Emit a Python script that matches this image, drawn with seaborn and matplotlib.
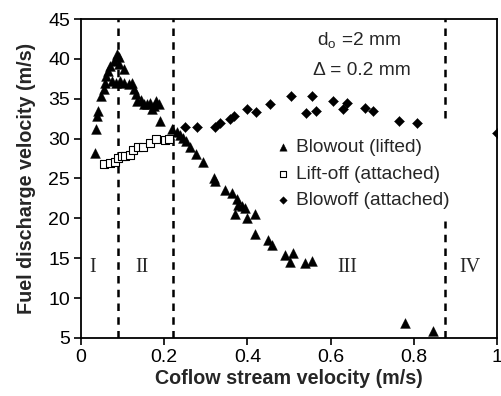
import matplotlib
matplotlib.use("Agg")
import numpy as np
import pandas as pd
import seaborn as sns
from matplotlib import pyplot as plt

# Blowout (lifted) - filled triangles
blowout_x = [0.033, 0.036, 0.039, 0.042, 0.049, 0.055, 0.058, 0.060, 0.065, 0.070,
             0.079, 0.087, 0.092, 0.091, 0.103, 0.075, 0.083, 0.094, 0.103, 0.115,
             0.123, 0.127, 0.131, 0.135, 0.143, 0.151, 0.159, 0.167, 0.175, 0.180,
             0.188, 0.191, 0.171, 0.218, 0.230, 0.238, 0.246, 0.252, 0.262, 0.276,
             0.294, 0.320, 0.322, 0.346, 0.362, 0.374, 0.378, 0.386, 0.394, 0.370,
             0.398, 0.418, 0.418, 0.450, 0.458, 0.490, 0.510, 0.502, 0.538, 0.555,
             0.779, 0.845]
blowout_y = [28.2, 31.25, 32.8, 33.5, 35.35, 36.2, 37.0, 37.9, 38.5, 39.1,
             39.75, 40.6, 40.2, 39.3, 38.7, 37.2, 37.0, 37.2, 37.0, 36.8,
             37.0, 36.2, 35.6, 34.7, 34.9, 34.3, 34.3, 34.5, 34.1, 34.7,
             34.3, 32.2, 33.7, 31.2, 30.8, 30.5, 30.1, 29.7, 28.9, 28.1,
             27.1, 25.1, 24.7, 23.6, 23.2, 22.4, 21.7, 21.5, 21.3, 20.5,
             20.1, 20.5, 18.0, 17.3, 16.7, 15.4, 15.6, 14.5, 14.4, 14.6,
             6.85, 5.9]

# Lift-off (attached) - open squares
liftoff_x = [0.055, 0.070, 0.082, 0.090, 0.098, 0.106, 0.118, 0.126, 0.138, 0.150,
             0.166, 0.180, 0.202, 0.212]
liftoff_y = [26.8, 26.9, 27.05, 27.6, 27.8, 27.8, 28.0, 28.6, 29.0, 28.9,
             29.5, 30.0, 29.8, 29.9]

# Blowoff (attached) - filled diamonds
blowoff_x = [0.250, 0.278, 0.322, 0.334, 0.358, 0.368, 0.398, 0.421, 0.454, 0.504,
             0.555, 0.541, 0.566, 0.605, 0.630, 0.639, 0.683, 0.703, 0.765, 0.807,
             1.0]
blowoff_y = [31.4, 31.4, 31.4, 32.0, 32.4, 32.8, 33.7, 33.4, 34.3, 35.4,
             35.4, 33.2, 33.5, 34.7, 33.7, 34.5, 33.8, 33.5, 32.2, 32.0,
             30.7]

regime_bounds = [0.09, 0.22, 0.875]
regime_labels = ["I", "II", "III", "IV"]
regime_label_x = [0.029, 0.146, 0.639, 0.935]

sns.set_style("ticks")
plt.rcParams['font.family'] = ['Liberation Sans', 'DejaVu Sans']

fig = plt.figure(figsize=(5.02, 3.96), dpi=100)
ax = fig.add_axes([0.1614, 0.1465, 0.8287, 0.8055])

sns.scatterplot(x=blowout_x, y=blowout_y, marker="^", s=50, color="black",
                edgecolor="black", linewidth=0.3, label="Blowout (lifted)", ax=ax, zorder=3)
sns.scatterplot(x=liftoff_x, y=liftoff_y, marker="s", s=40, facecolor="white",
                edgecolor="black", linewidth=0.8, label="Lift-off (attached)", ax=ax, zorder=3)
sns.scatterplot(x=blowoff_x, y=blowoff_y, marker="D", s=26, color="black",
                edgecolor="black", linewidth=0.3, label="Blowoff (attached)", ax=ax, zorder=3)

dash = (0, (3, 2.5))
ax.vlines(regime_bounds[:2], 5, 45, colors="black", linestyles=dash, linewidth=1.8)
ax.vlines([regime_bounds[2]], 32.6, 45, colors="black", linestyles=dash, linewidth=1.8)
ax.vlines([regime_bounds[2]], 5, 19.7, colors="black", linestyles=dash, linewidth=1.8)

for lx, lab in zip(regime_label_x, regime_labels):
    ax.text(lx, 13.9, lab, family="Liberation Serif", fontsize=14.5, ha="center", va="center")

ax.text(0.567, 42.2, r"d$_\mathregular{o}$ =2 mm", fontsize=13.8, ha="left", va="center")
ax.text(0.558, 38.6, "\u0394 = 0.2 mm", fontsize=13.8, ha="left", va="center")

ax.set_xlim(0, 1)
ax.set_ylim(5, 45)
ax.set_xticks([0, 0.2, 0.4, 0.6, 0.8, 1.0])
ax.set_xticklabels(["0", "0.2", "0.4", "0.6", "0.8", "1"])
ax.set_yticks(np.arange(5, 46, 5))
ax.tick_params(axis="both", labelsize=14, direction="out", length=5, width=1.2,
               color="black", labelcolor="black", pad=3)
for sp in ax.spines.values():
    sp.set_color("black")
    sp.set_linewidth(1.3)

ax.set_xlabel("Coflow stream velocity (m/s)", fontsize=14.2, fontweight="bold", labelpad=2)
ax.set_ylabel("Fuel discharge velocity (m/s)", fontsize=14.2, fontweight="bold", labelpad=9)

ax.legend(loc="upper left", bbox_to_anchor=(0.448, 0.65), frameon=False, fontsize=13.8,
          markerscale=0.75, handlelength=0.8, handletextpad=0.3, labelspacing=0.49,
          borderaxespad=0)

fig.savefig("out.png", dpi=100)
